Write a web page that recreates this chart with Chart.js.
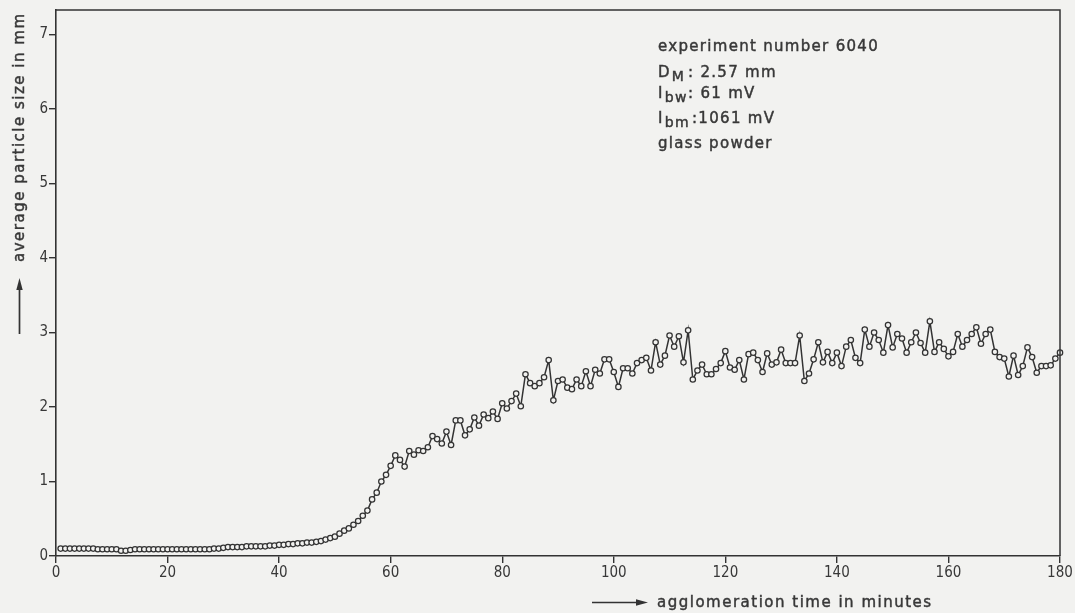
<!DOCTYPE html>
<html>
<head>
<meta charset="utf-8">
<title>Agglomeration run 6040</title>
<script src="https://cdn.jsdelivr.net/npm/chart.js@4/dist/chart.umd.min.js"></script>
<style>
  html, body { margin: 0; padding: 0; background: #f2f2f0; }
  #wrap { width: 1075px; height: 613px; position: relative; }
  canvas { display: block; }
</style>
</head>
<body>
<div id="wrap"><canvas id="chart" width="1075" height="613"></canvas></div>
<script>
// Sampling instants (minutes, one reading every 50 s)
const minutes = [
  0.83,1.67,2.5,3.33,4.17,5,
  5.83,6.67,7.5,8.33,9.17,10,
  10.83,11.67,12.5,13.33,14.17,15,
  15.83,16.67,17.5,18.33,19.17,20,
  20.83,21.67,22.5,23.33,24.17,25,
  25.83,26.67,27.5,28.33,29.17,30,
  30.83,31.67,32.5,33.33,34.17,35,
  35.83,36.67,37.5,38.33,39.17,40,
  40.83,41.67,42.5,43.33,44.17,45,
  45.83,46.67,47.5,48.33,49.17,50,
  50.83,51.67,52.5,53.33,54.17,55,
  55.83,56.67,57.5,58.33,59.17,60,
  60.83,61.67,62.5,63.33,64.17,65,
  65.83,66.67,67.5,68.33,69.17,70,
  70.83,71.67,72.5,73.33,74.17,75,
  75.83,76.67,77.5,78.33,79.17,80,
  80.83,81.67,82.5,83.33,84.17,85,
  85.83,86.67,87.5,88.33,89.17,90,
  90.83,91.67,92.5,93.33,94.17,95,
  95.83,96.67,97.5,98.33,99.17,100,
  100.83,101.67,102.5,103.33,104.17,105,
  105.83,106.67,107.5,108.33,109.17,110,
  110.83,111.67,112.5,113.33,114.17,115,
  115.83,116.67,117.5,118.33,119.17,120,
  120.83,121.67,122.5,123.33,124.17,125,
  125.83,126.67,127.5,128.33,129.17,130,
  130.83,131.67,132.5,133.33,134.17,135,
  135.83,136.67,137.5,138.33,139.17,140,
  140.83,141.67,142.5,143.33,144.17,145,
  145.83,146.67,147.5,148.33,149.17,150,
  150.83,151.67,152.5,153.33,154.17,155,
  155.83,156.67,157.5,158.33,159.17,160,
  160.83,161.67,162.5,163.33,164.17,165,
  165.83,166.67,167.5,168.33,169.17,170,
  170.83,171.67,172.5,173.33,174.17,175,
  175.83,176.67,177.5,178.33,179.17,180
];

// Average particle size (mm) at each sampling instant
const particleSize = [
  0.10,0.10,0.10,0.10,0.10,0.10,
  0.10,0.10,0.09,0.09,0.09,0.09,
  0.09,0.07,0.07,0.08,0.09,0.09,
  0.09,0.09,0.09,0.09,0.09,0.09,
  0.09,0.09,0.09,0.09,0.09,0.09,
  0.09,0.09,0.09,0.10,0.10,0.11,
  0.12,0.12,0.12,0.12,0.13,0.13,
  0.13,0.13,0.13,0.14,0.14,0.15,
  0.15,0.16,0.16,0.17,0.17,0.18,
  0.18,0.19,0.20,0.22,0.24,0.26,
  0.30,0.34,0.37,0.42,0.47,0.54,
  0.61,0.76,0.85,1.00,1.09,1.21,
  1.35,1.29,1.20,1.41,1.36,1.42,
  1.41,1.46,1.61,1.57,1.51,1.67,
  1.49,1.82,1.82,1.62,1.70,1.86,
  1.75,1.90,1.85,1.94,1.84,2.05,
  1.98,2.08,2.18,2.01,2.44,2.32,
  2.28,2.32,2.40,2.63,2.09,2.35,
  2.37,2.26,2.24,2.37,2.28,2.48,
  2.28,2.50,2.45,2.64,2.64,2.47,
  2.27,2.52,2.52,2.45,2.59,2.63,
  2.66,2.49,2.87,2.57,2.69,2.96,
  2.81,2.95,2.60,3.03,2.37,2.49,
  2.57,2.44,2.44,2.51,2.59,2.75,
  2.53,2.50,2.63,2.37,2.71,2.73,
  2.63,2.47,2.72,2.57,2.60,2.77,
  2.59,2.59,2.59,2.96,2.35,2.45,
  2.64,2.87,2.60,2.74,2.59,2.73,
  2.55,2.81,2.90,2.66,2.59,3.04,
  2.81,3.00,2.90,2.73,3.10,2.80,
  2.98,2.92,2.73,2.87,3.00,2.86,
  2.73,3.15,2.74,2.87,2.78,2.68,
  2.74,2.98,2.81,2.90,2.98,3.07,
  2.85,2.98,3.04,2.74,2.67,2.65,
  2.41,2.69,2.43,2.55,2.80,2.67,
  2.46,2.55,2.55,2.56,2.65,2.73
];

// Axis tick values
const xTickValues = [0, 20, 40, 60, 80, 100, 120, 140, 160, 180];
const yTickValues = [0, 1, 2, 3, 4, 5, 6, 7];

// Axis titles
const xTitle = 'agglomeration time in minutes';
const yTitle = 'average particle size in mm';

// Run parameters printed in the upper right
const runLine = 'experiment number 6040';
const diameterLabel = ['D', 'M', ': 2.57 mm'];
const bwLabel = ['I', 'bw', ': 61 mV'];
const bmLabel = ['I', 'bm', ':1061 mV'];
const materialLine = 'glass powder';

const INK = '#333333';
const TEXT_INK = '#383838';
const PAPER = '#f2f2f0';
const FONT = "'DejaVu Sans', 'Open Sans', sans-serif";
const TICK_FONT = "'DejaVu Sans Condensed', 'DejaVu Sans', sans-serif";

const points = minutes.map((m, i) => ({ x: m, y: particleSize[i] }));

function spaced(ctx, px) {
  if ('letterSpacing' in ctx) ctx.letterSpacing = px + 'px';
}

// Text with a thin outline so the lettering reads like pen strokes
function inked(ctx, text, x, y) {
  ctx.fillText(text, x, y);
  ctx.strokeText(text, x, y);
}

function arrow(ctx, x1, y1, x2, y2) {
  const ang = Math.atan2(y2 - y1, x2 - x1);
  const len = 12, half = 3.2;
  const bx = x2 - Math.cos(ang) * len, by = y2 - Math.sin(ang) * len;
  ctx.beginPath();
  ctx.moveTo(x1, y1);
  ctx.lineTo(bx, by);
  ctx.lineWidth = 1.7;
  ctx.stroke();
  ctx.beginPath();
  ctx.moveTo(x2, y2);
  ctx.lineTo(bx - Math.sin(ang) * half, by + Math.cos(ang) * half);
  ctx.lineTo(bx + Math.sin(ang) * half, by - Math.cos(ang) * half);
  ctx.closePath();
  ctx.fill();
}

function subscripted(ctx, parts, x, y, colonX) {
  ctx.font = '15px ' + FONT;
  inked(ctx, parts[0], x, y);
  const w = ctx.measureText(parts[0]).width;
  ctx.font = '14px ' + FONT;
  inked(ctx, parts[1], x + w + 1, y + 4);
  ctx.font = '15px ' + FONT;
  inked(ctx, parts[2], colonX, y);
}

const decorations = {
  id: 'decorations',
  afterDraw(chart) {
    const { ctx, chartArea: a } = chart;
    ctx.save();
    ctx.strokeStyle = INK;
    ctx.fillStyle = INK;

    // top and right edges of the frame
    ctx.lineWidth = 1.5;
    ctx.beginPath();
    ctx.moveTo(a.left, a.top);
    ctx.lineTo(a.right, a.top);
    ctx.lineTo(a.right, a.bottom);
    ctx.stroke();

    // x axis title with arrow
    arrow(ctx, 592, 602.5, 648, 602.5);
    ctx.fillStyle = TEXT_INK;
    ctx.strokeStyle = TEXT_INK;
    ctx.lineWidth = 0.45;
    ctx.font = '15px ' + FONT;
    spaced(ctx, 1.5);
    ctx.textBaseline = 'alphabetic';
    ctx.textAlign = 'left';
    inked(ctx, xTitle, 657, 607);

    // y axis title with arrow, reading upwards
    ctx.fillStyle = INK;
    ctx.strokeStyle = INK;
    arrow(ctx, 19.5, 334, 19.5, 278);
    ctx.fillStyle = TEXT_INK;
    ctx.strokeStyle = TEXT_INK;
    ctx.lineWidth = 0.45;
    ctx.save();
    ctx.translate(23.5, 262);
    ctx.rotate(-Math.PI / 2);
    inked(ctx, yTitle, 0, 0);
    ctx.restore();

    // run parameters
    spaced(ctx, 1.3);
    ctx.font = '15px ' + FONT;
    inked(ctx, runLine, 658, 51);
    subscripted(ctx, diameterLabel, 658, 77, 688);
    subscripted(ctx, bwLabel, 658, 98, 688);
    subscripted(ctx, bmLabel, 658, 123, 692);
    ctx.font = '15px ' + FONT;
    inked(ctx, materialLine, 658, 148);

    ctx.restore();
  }
};

new Chart(document.getElementById('chart'), {
  type: 'line',
  data: {
    datasets: [{
      data: points,
      borderColor: INK,
      borderWidth: 1.5,
      tension: 0,
      pointRadius: 2.7,
      pointBorderWidth: 1.25,
      pointBorderColor: INK,
      pointBackgroundColor: PAPER,
      clip: 6
    }]
  },
  options: {
    responsive: false,
    devicePixelRatio: 1,
    animation: false,
    events: [],
    layout: { padding: { left: 0, right: 15, top: 10, bottom: 0 } },
    plugins: {
      legend: { display: false },
      tooltip: { enabled: false },
      title: { display: false }
    },
    scales: {
      x: {
        type: 'linear',
        min: 0,
        max: 180,
        afterBuildTicks(scale) { scale.ticks = xTickValues.map(v => ({ value: v })); },
        afterFit(scale) { scale.height = 57; },
        grid: { drawOnChartArea: false, drawTicks: true, tickLength: 7, color: INK, lineWidth: 1.4 },
        border: { display: true, color: INK, width: 1.6 },
        ticks: {
          color: TEXT_INK,
          padding: 1,
          maxRotation: 0,
          autoSkip: false,
          font: { family: TICK_FONT, size: 15 }
        }
      },
      y: {
        type: 'linear',
        min: 0,
        max: 7.33,
        afterBuildTicks(scale) { scale.ticks = yTickValues.map(v => ({ value: v })); },
        afterFit(scale) { scale.width = 56; },
        grid: { drawOnChartArea: false, drawTicks: true, tickLength: 7, color: INK, lineWidth: 1.4 },
        border: { display: true, color: INK, width: 1.6 },
        ticks: {
          color: TEXT_INK,
          padding: 1,
          autoSkip: false,
          font: { family: TICK_FONT, size: 15 }
        }
      }
    }
  },
  plugins: [decorations]
});
</script>
</body>
</html>
